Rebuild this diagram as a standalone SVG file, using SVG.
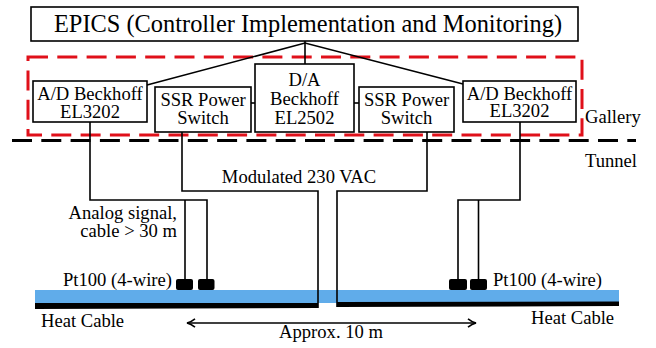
<svg xmlns="http://www.w3.org/2000/svg" width="656" height="348" viewBox="0 0 656 348">
<defs>
<marker id="arr" viewBox="0 0 10 10" refX="9" refY="5" markerWidth="10" markerHeight="10" markerUnits="userSpaceOnUse" orient="auto-start-reverse">
<path d="M1,0.8 Q5,4 9,5 Q5,6 1,9.2" fill="none" stroke="#000" stroke-width="1.6"/>
</marker>
</defs>
<rect width="656" height="348" fill="#fff"/>
<g id="zones">
<rect x="28" y="57" width="554" height="78" fill="none" stroke="#e0101a" stroke-width="3" stroke-dasharray="20 9.3"/>
<line x1="12" y1="140.5" x2="636" y2="140.5" stroke="#000" stroke-width="2.8" stroke-dasharray="20 9.3"/>
<g font-family="Liberation Serif" font-size="18.6">
<text x="585" y="123">Gallery</text>
<text x="585" y="167">Tunnel</text>
</g>
</g>
<g id="heat-cable">
<rect x="35" y="290" width="584" height="13" fill="#60acea"/>
<polygon points="35,303 318,303 318,308 35,309" fill="#000"/>
<polygon points="337,302 619,301.5 619,306 337,307" fill="#000"/>
<g font-family="Liberation Serif" font-size="18.6">
<text x="41" y="327">Heat Cable</text>
<text x="531" y="324">Heat Cable</text>
</g>
</g>
<g id="connectors" fill="none" stroke="#000" stroke-width="1.6">
<polyline points="147,85 305,43 463,84"/>
<line x1="305" y1="41" x2="305" y2="64"/>
<line x1="251" y1="103" x2="255" y2="103"/>
<line x1="354" y1="103" x2="359" y2="103"/>
<polyline points="90,122 90,200 207,200 207,280"/>
<line x1="185" y1="200" x2="185" y2="280"/>
<polyline points="520,122 520,200 458,200 458,280"/>
<line x1="478.5" y1="200" x2="478.5" y2="280"/>
<polyline points="182,132 182,191 318,191 318,308"/>
<polyline points="427,132 427,191 337,191 337,307"/>
<line x1="187" y1="323" x2="476" y2="323" marker-start="url(#arr)" marker-end="url(#arr)"/>
</g>
<g id="labels" font-family="Liberation Serif" font-size="18.6" fill="#000">
<text x="299" y="183" text-anchor="middle">Modulated 230 VAC</text>
<text x="177" y="219" text-anchor="end">Analog signal,</text>
<text x="177" y="237" text-anchor="end">cable &gt; 30 m</text>
<text x="331" y="338" text-anchor="middle">Approx. 10 m</text>
</g>
<g id="epics">
<rect x="31" y="7" width="547" height="34" fill="#fff" stroke="#000" stroke-width="1.6"/>
<text x="308" y="32" text-anchor="middle" font-family="Liberation Serif" font-size="24.4">EPICS (Controller Implementation and Monitoring)</text>
</g>
<g id="ad-left" font-family="Liberation Serif" font-size="18.6" text-anchor="middle">
<rect x="33" y="81" width="114" height="41" fill="#fff" stroke="#000" stroke-width="1.6"/>
<text x="90" y="100">A/D Beckhoff</text>
<text x="90" y="117.5">EL3202</text>
</g>
<g id="ssr-left" font-family="Liberation Serif" font-size="18.6" text-anchor="middle">
<rect x="155" y="87" width="96" height="45" fill="#fff" stroke="#000" stroke-width="1.6"/>
<text x="203" y="105.5">SSR Power</text>
<text x="203" y="123.5">Switch</text>
</g>
<g id="da" font-family="Liberation Serif" font-size="18.6" text-anchor="middle">
<rect x="255" y="64" width="99" height="68" fill="#fff" stroke="#000" stroke-width="1.6"/>
<text x="304.5" y="86">D/A</text>
<text x="304.5" y="105">Beckhoff</text>
<text x="304.5" y="123.5">EL2502</text>
</g>
<g id="ssr-right" font-family="Liberation Serif" font-size="18.6" text-anchor="middle">
<rect x="359" y="87" width="95" height="45" fill="#fff" stroke="#000" stroke-width="1.6"/>
<text x="406.5" y="105.5">SSR Power</text>
<text x="406.5" y="123.5">Switch</text>
</g>
<g id="ad-right" font-family="Liberation Serif" font-size="18.6" text-anchor="middle">
<rect x="463" y="81" width="113" height="41" fill="#fff" stroke="#000" stroke-width="1.6"/>
<text x="519.5" y="99.5">A/D Beckhoff</text>
<text x="519.5" y="117">EL3202</text>
</g>
<g id="sensors" fill="#000">
<rect x="176" y="279" width="17" height="11" rx="2"/>
<rect x="198" y="279" width="16.5" height="11" rx="2"/>
<rect x="449" y="279" width="18" height="11" rx="2"/>
<rect x="470" y="279" width="17" height="11" rx="2"/>
<g font-family="Liberation Serif" font-size="18.6">
<text x="63" y="286">Pt100 (4-wire)</text>
<text x="493" y="286">Pt100 (4-wire)</text>
</g>
</g>
</svg>
